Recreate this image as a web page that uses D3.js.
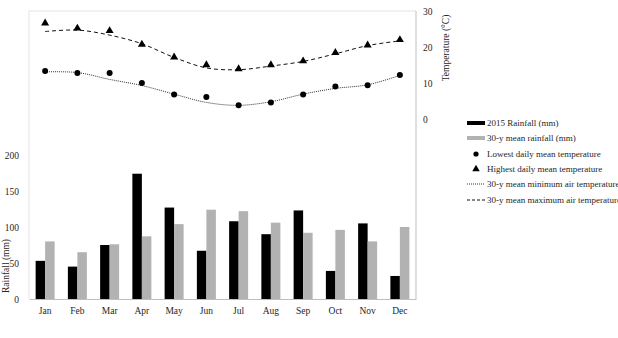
<!DOCTYPE html>
<html>
<head>
<meta charset="utf-8">
<script src="https://cdn.jsdelivr.net/npm/d3@7"></script>
<style>
body{margin:0;background:#fff;}
text{font-family:"Liberation Serif","Times New Roman",serif;fill:#262626;}
</style>
</head>
<body>
<div id="chart"></div>
<script>
const months=["Jan","Feb","Mar","Apr","May","Jun","Jul","Aug","Sep","Oct","Nov","Dec"];
const rain2015=[53,45,75,174,127,67,108,90,123,39,105,32];
const rain30y=[80,65,76,87,104,124,122,106,92,96,80,100];
const lowestTemp=[13.3,12.8,12.8,10,6.8,6.1,3.8,4.6,6.8,9,9.4,12.2];
const highestTemp=[26.6,25.2,24.5,20.7,17.2,15,13.9,15,16.1,18.4,20.5,22];
const min30y=[13.1,12.9,11,9.3,6.9,4.6,3.8,4.8,6.9,8.5,9.5,12.1];
const max30y=[24.3,24.7,23.3,20.9,17.1,14.2,13.7,14.7,16,18.1,20.4,21.7];
const rainTicks=[0,50,100,150,200];
const tempTicks=[0,10,20,30];
const legendItems=["2015 Rainfall (mm)","30-y mean rainfall (mm)","Lowest daily mean temperature","Highest daily mean temperature","30-y mean minimum air temperature (°C)","30-y mean maximum air temperature (°C)"];

const W=618,H=338;
const pLeft=29,pRight=416,pTop=11,pBottom=299;

const svg=d3.select("#chart").append("svg")
    .attr("width",W).attr("height",H);

const x=d3.scaleBand().domain(months).range([pLeft,pRight]);
const xs=d3.scaleBand().domain(["a","b"]).range([0,19]);
const yRain=d3.scaleLinear().domain([0,400]).range([pBottom,pTop]);
const yTemp=d3.scaleLinear().domain([-50,30]).range([pBottom,pTop]);

// plot area border
svg.append("path")
    .attr("d",`M${pLeft},${pBottom}V${pTop}H${pRight}`)
    .attr("fill","none").attr("stroke","#e3e3e3");

// bars
const groups=svg.selectAll(".month").data(months).enter().append("g")
    .attr("transform",d=>`translate(${x(d)+x.bandwidth()/2-9.5},0)`);
groups.append("rect")
    .attr("x",xs("a")).attr("width",xs.bandwidth())
    .attr("y",(d,i)=>yRain(rain2015[i]))
    .attr("height",(d,i)=>yRain(0)-yRain(rain2015[i]))
    .attr("fill","#000");
groups.append("rect")
    .attr("x",xs("b")).attr("width",xs.bandwidth())
    .attr("y",(d,i)=>yRain(rain30y[i]))
    .attr("height",(d,i)=>yRain(0)-yRain(rain30y[i]))
    .attr("fill","#b2b2b2");

// axes
const xAxis=svg.append("g").attr("transform",`translate(0,${pBottom})`)
    .call(d3.axisBottom(x).tickSize(0).tickPadding(8));
xAxis.select(".domain").attr("stroke","#bfbfbf");
const yAxisL=svg.append("g").attr("transform",`translate(${pLeft-7},0)`)
    .call(d3.axisLeft(yRain).tickValues(rainTicks).tickSize(0));
yAxisL.select(".domain").remove();
const yAxisR=svg.append("g").attr("transform",`translate(${pRight},0)`)
    .call(d3.axisRight(yTemp).tickValues(tempTicks).tickSize(0).tickPadding(7));
yAxisR.select(".domain").attr("stroke","#bfbfbf").attr("d",`M0,${pTop}V${pBottom}`);
svg.selectAll(".tick text").style("font-size","9.5px")
    .style("font-family","Liberation Serif").attr("fill","#262626");

// axis titles
svg.append("text").attr("transform","translate(8.5,266) rotate(-90)")
    .attr("text-anchor","middle").style("font-size","9.5px").text("Rainfall  (mm)");
svg.append("text").attr("transform","translate(449,48) rotate(-90)")
    .attr("text-anchor","middle").style("font-size","9.5px").text("Temperature (°C)");

// temperature lines
const cx=d=>x(d)+x.bandwidth()/2;
const line=d3.line().curve(d3.curveCatmullRom.alpha(0.5));
svg.append("path")
    .attr("d",line(months.map((m,i)=>[cx(m),yTemp(min30y[i])])))
    .attr("fill","none").attr("stroke","#333").attr("stroke-width",1)
    .attr("stroke-dasharray","1,1");
svg.append("path")
    .attr("d",line(months.map((m,i)=>[cx(m),yTemp(max30y[i])])))
    .attr("fill","none").attr("stroke","#111").attr("stroke-width",1)
    .attr("stroke-dasharray","4,3");

// markers
svg.selectAll(".low").data(months).enter().append("circle")
    .attr("cx",cx).attr("cy",(d,i)=>yTemp(lowestTemp[i]))
    .attr("r",3).attr("fill","#000");
svg.selectAll(".high").data(months).enter().append("path")
    .attr("d",d3.symbol().type(d3.symbolTriangle).size(28))
    .attr("transform",(d,i)=>`translate(${cx(d)},${yTemp(highestTemp[i])})`)
    .attr("fill","#000");

// legend
const lx=467,ly=[123,138,154,169,184,200];
const leg=svg.selectAll(".leg").data(legendItems).enter().append("g")
    .attr("transform",(d,i)=>`translate(${lx},${ly[i]})`);
leg.append("text").attr("x",20).attr("y",3).style("font-size","9px").text(d=>d);
leg.filter((d,i)=>i===0).append("rect").attr("x",0).attr("y",-2).attr("width",18).attr("height",4).attr("fill","#000");
leg.filter((d,i)=>i===1).append("rect").attr("x",0).attr("y",-2).attr("width",18).attr("height",4).attr("fill","#b2b2b2");
leg.filter((d,i)=>i===2).append("circle").attr("cx",9).attr("r",2.6).attr("fill","#000");
leg.filter((d,i)=>i===3).append("path").attr("d",d3.symbol().type(d3.symbolTriangle).size(24))
    .attr("transform","translate(9,0)").attr("fill","#000");
leg.filter((d,i)=>i===4).append("line").attr("x1",0).attr("x2",18)
    .attr("stroke","#333").attr("stroke-dasharray","1,1");
leg.filter((d,i)=>i===5).append("line").attr("x1",0).attr("x2",18)
    .attr("stroke","#111").attr("stroke-dasharray","3,2");
</script>
</body>
</html>
